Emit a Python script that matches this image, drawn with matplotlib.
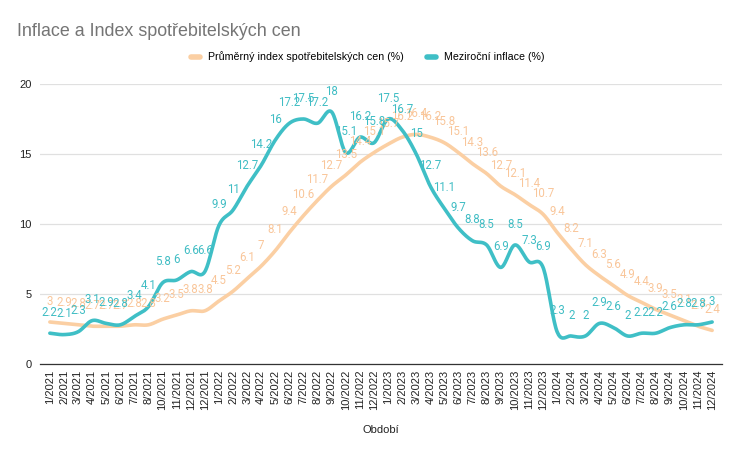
import numpy as np
import matplotlib
matplotlib.use("Agg")
import matplotlib.pyplot as plt

# period labels as they appear on the axis (9/2021 missing, 12/2021 twice)
periods = ["1/2021", "2/2021", "3/2021", "4/2021", "5/2021", "6/2021", "7/2021", "8/2021",
           "10/2021", "11/2021", "12/2021", "12/2021"]
periods += ["%d/2022" % m for m in range(1, 13)]
periods += ["%d/2023" % m for m in range(1, 13)]
periods += ["%d/2024" % m for m in range(1, 13)]

avg_cpi = [3, 2.9, 2.8, 2.7, 2.7, 2.7, 2.8, 2.8, 3.2, 3.5, 3.8, 3.8,
           4.5, 5.2, 6.1, 7, 8.1, 9.4, 10.6, 11.7, 12.7, 13.5, 14.4, 15.1,
           15.7, 16.2, 16.4, 16.2, 15.8, 15.1, 14.3, 13.6, 12.7, 12.1, 11.4, 10.7,
           9.4, 8.2, 7.1, 6.3, 5.6, 4.9, 4.4, 3.9, 3.5, 3.1, 2.7, 2.4]
yoy = [2.2, 2.1, 2.3, 3.1, 2.9, 2.8, 3.4, 4.1, 5.8, 6, 6.6, 6.6,
       9.9, 11, 12.7, 14.2, 16, 17.2, 17.5, 17.2, 18, 15.1, 16.2, 15.8,
       17.5, 16.7, 15, 12.7, 11.1, 9.7, 8.8, 8.5, 6.9, 8.5, 7.3, 6.9,
       2.3, 2, 2, 2.9, 2.6, 2, 2.2, 2.2, 2.6, 2.8, 2.8, 3]

c_avg = "#fbcfa3"
c_yoy = "#3fbfc6"


def smooth(y, n=20):
    # hermite curve through the points (like a "smooth" line)
    y = np.asarray(y, float)
    x = np.arange(len(y))
    m = np.gradient(y)
    xs, ys = [], []
    for i in range(len(y) - 1):
        t = np.linspace(0, 1, n, endpoint=False)
        h00 = 2*t**3 - 3*t**2 + 1
        h10 = t**3 - 2*t**2 + t
        h01 = -2*t**3 + 3*t**2
        h11 = t**3 - t**2
        xs.append(x[i] + t)
        ys.append(h00*y[i] + h10*m[i] + h01*y[i+1] + h11*m[i+1])
    xs.append([x[-1]])
    ys.append([y[-1]])
    return np.concatenate(xs), np.concatenate(ys)


fig = plt.figure(figsize=(7.36, 4.54), dpi=100)
ax = fig.add_axes([40/736, 90/454, 682/736, 280/454])

x = np.arange(len(periods))
sx, sy = smooth(avg_cpi)
ax.plot(sx, sy, color=c_avg, lw=2.6, solid_capstyle="round", label="Průměrný index spotřebitelských cen (%)", zorder=3)
sx, sy = smooth(yoy)
ax.plot(sx, sy, color=c_yoy, lw=2.6, solid_capstyle="round", label="Meziroční inflace (%)", zorder=4)

for i in x:
    ax.annotate("%g" % avg_cpi[i], (i, avg_cpi[i]), xytext=(0, 15), textcoords="offset points",
                ha="center", va="center", fontsize=8.3, color="#f9c69a", family="Roboto", zorder=5)
    ax.annotate("%g" % yoy[i], (i, yoy[i]), xytext=(0, 15), textcoords="offset points",
                ha="center", va="center", fontsize=8.3, color="#40bdc4", family="Roboto", zorder=6)

ax.set_xlim(-0.7, 47.7)
ax.set_ylim(0, 20)
ax.set_yticks([0, 5, 10, 15, 20])
ax.set_xticks(x)
ax.set_xticklabels(periods, rotation=90, fontsize=8, family="Liberation Sans", color="#222222")
ax.tick_params(axis="y", labelsize=8, length=0, pad=6, labelcolor="#222222")
ax.tick_params(axis="x", length=0, pad=4)
for lbl in ax.get_yticklabels():
    lbl.set_family("Liberation Sans")
ax.grid(axis="y", color="#e0e0e0", lw=0.9)
ax.set_axisbelow(True)
for s in ["top", "right", "left"]:
    ax.spines[s].set_visible(False)
ax.spines["bottom"].set_color("#333333")
ax.spines["bottom"].set_linewidth(0.9)

ax.set_xlabel("Období", fontsize=8, family="Liberation Sans", color="#222222", labelpad=11)

fig.text(17/736, 1 - 31/454, "Inflace a Index spotřebitelských cen", fontsize=12.9, color="#757575",
         family="Liberation Sans", va="center", ha="left")
leg = fig.legend(loc="center", bbox_to_anchor=(0.5, 1 - 57/454), ncol=2, frameon=False,
                 prop={"family": "Liberation Sans", "size": 7.7}, handlelength=0.8,
                 handletextpad=0.8, columnspacing=2.2)
for h in leg.get_lines():
    h.set_linewidth(4)

fig.savefig("out.png", dpi=100)
plt.close(fig)
